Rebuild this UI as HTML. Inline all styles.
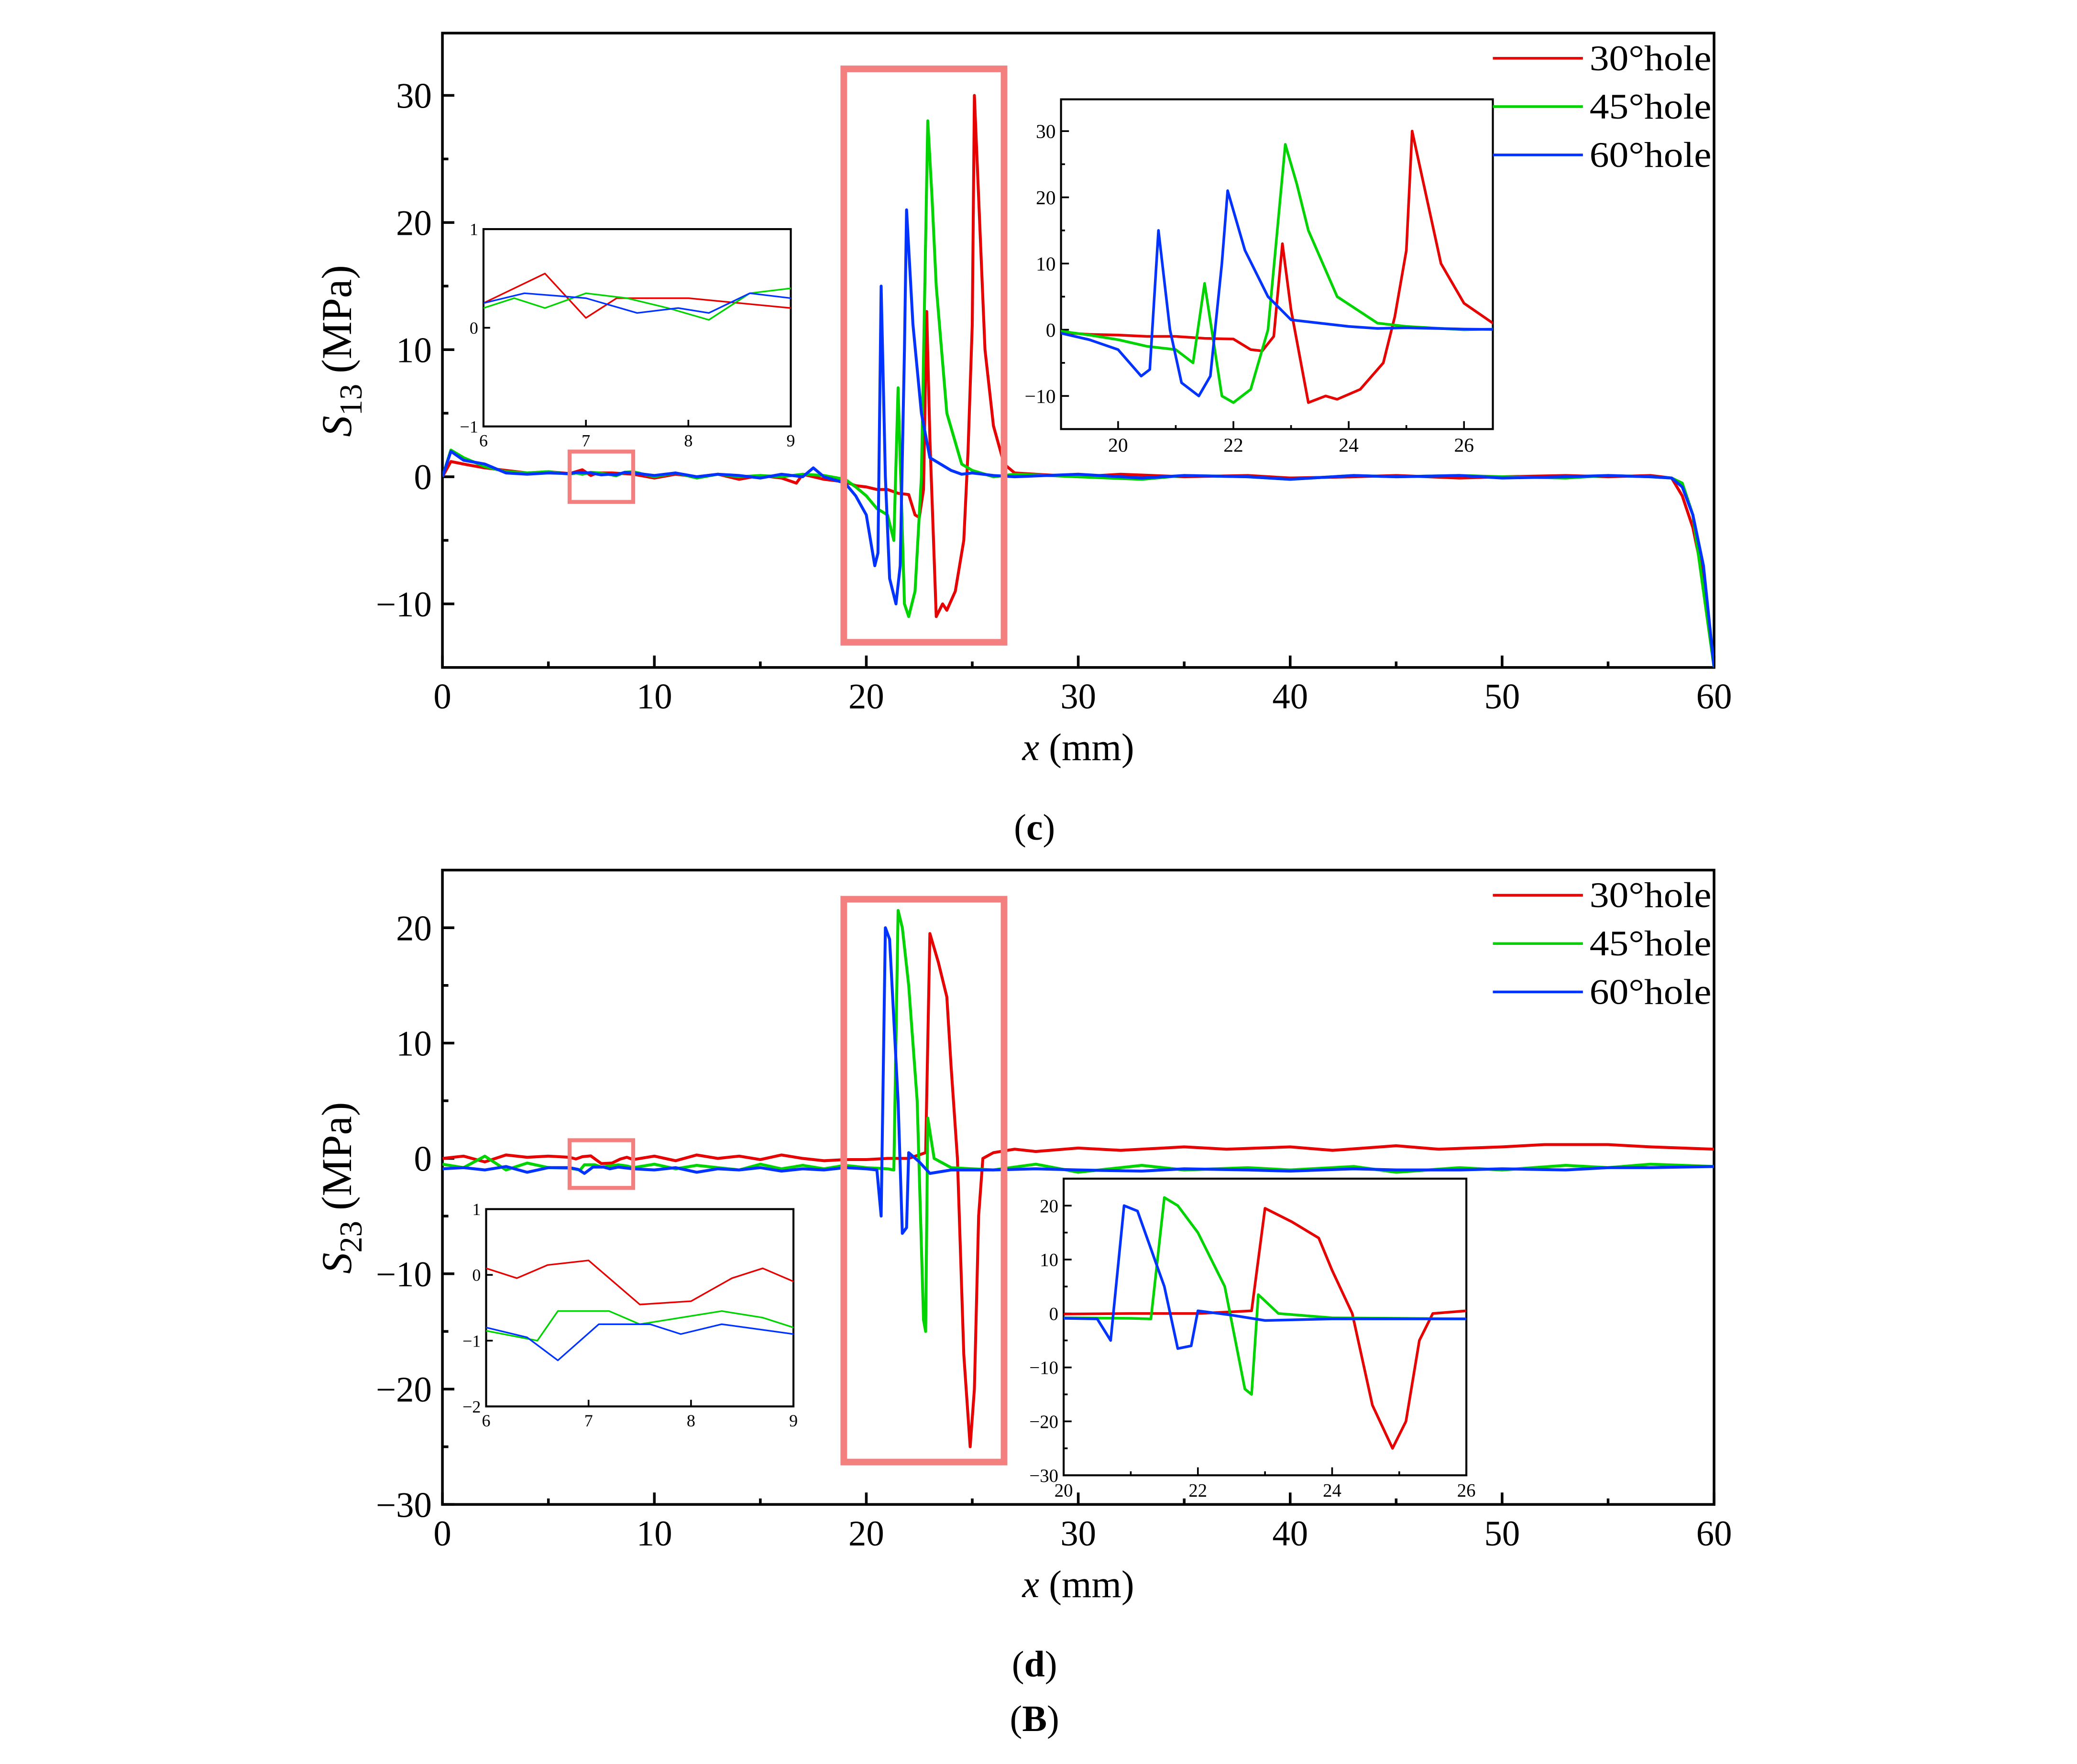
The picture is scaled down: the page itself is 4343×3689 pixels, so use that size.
<!DOCTYPE html>
<html><head><meta charset="utf-8"><style>
html,body{margin:0;padding:0;background:#fff;overflow:hidden;width:4343px;height:3689px}
svg{display:block}
text{font-family:"Liberation Serif",serif;fill:#000}
</style></head><body>
<svg id="fig" width="4343" height="3689" viewBox="0 0 1568 1332" preserveAspectRatio="none" xmlns="http://www.w3.org/2000/svg">
<defs>
<clipPath id="cTop"><rect x="334" y="25" width="960" height="479"/></clipPath>
<clipPath id="cBot"><rect x="334" y="657" width="960" height="479"/></clipPath>
<clipPath id="cTopS"><rect x="365" y="173" width="232" height="149"/></clipPath>
<clipPath id="cTopB"><rect x="801" y="75" width="326" height="249"/></clipPath>
<clipPath id="cBotS"><rect x="367" y="913" width="232" height="149"/></clipPath>
<clipPath id="cBotB"><rect x="803" y="890" width="304" height="224"/></clipPath>
</defs>
<g id="root"></g>
</svg>
<script>
// ---- S13 data (panel c) ----
const xR13=[0,0.4,1,2,3,4,5,6,6.6,7,7.3,8,9,10,11,12,13,14,15,16,16.7,17,18,19,19.5,20,20.5,21,21.5,22,22.3,22.5,22.7,22.85,23,23.3,23.6,23.8,24.2,24.6,24.8,25,25.1,25.3,25.6,26,26.5,27,28,30,32,35,38,40,43,45,48,50,53,55,57,58,58.5,59,59.5,60];
const yR13=[0,1.2,1,0.7,0.5,0.3,0.4,0.25,0.55,0.1,0.3,0.3,0.2,-0.1,0.2,0,0.2,-0.2,0.1,-0.1,-0.5,0.2,-0.2,-0.4,-0.7,-0.8,-1,-1,-1.3,-1.4,-3,-3.2,-1,13,3,-11,-10,-10.5,-9,-5,2,12,30,22,10,4,1,0.3,0.2,0,0.2,0,0.1,-0.1,0,0.1,-0.1,0,0.1,0,0.1,-0.1,-1.5,-4,-8,-15];
const xG13=[0,0.4,1,2,3,4,5,6,6.3,6.6,7,7.4,7.8,8.2,8.6,9,10,11,12,13,14,15,16,17,18,19,19.5,20,20.5,21,21.3,21.5,21.8,22,22.3,22.6,22.9,23.1,23.3,23.8,24.5,25,26,27,30,33,35,38,40,43,45,48,50,53,55,57,58,58.5,59,59.5,60];
const yG13=[0,2.1,1.5,0.8,0.4,0.3,0.4,0.2,0.3,0.2,0.35,0.3,0.2,0.08,0.35,0.4,0,0.3,-0.1,0.2,0,0.1,0,0.2,0.1,-0.2,-0.8,-1.5,-2.5,-3,-5,7,-10,-11,-9,0,28,22,15,5,1,0.5,0,0.2,0,-0.2,0.1,0,-0.2,0.1,0,0.1,0,-0.1,0.1,0,-0.1,-0.5,-3,-9,-15];
const xB13=[0,0.4,1,2,3,4,5,6,6.4,7,7.5,7.9,8.2,8.6,9,10,11,12,13,14,15,16,17,17.5,18,19,19.5,20,20.4,20.55,20.7,20.9,21.1,21.4,21.6,21.8,21.9,22.2,22.6,23,24,24.5,25,26,27,30,33,35,38,40,43,45,48,50,53,55,57,58,58.5,59,59.5,60];
const yB13=[0,2,1.3,1,0.3,0.2,0.3,0.25,0.35,0.3,0.15,0.2,0.15,0.35,0.3,0.1,0.3,0,0.2,0.1,-0.1,0.2,0,0.7,0,-0.5,-1.5,-3,-7,-6,15,0,-8,-10,-7,10,21,12,5,1.5,0.5,0.2,0.3,0.1,0,0.2,-0.1,0.1,0,-0.2,0.1,0,0.1,-0.1,0,0.1,0,-0.1,-0.8,-3,-7,-15];
// ---- S23 data (panel d) ----
const xR23=[0,1,2,3,4,5,6,6.3,6.6,7,7.5,8,8.4,8.7,9,10,11,12,13,14,15,16,17,18,19,20,21,22,22.8,22.9,23.0,23.4,23.8,24,24.3,24.6,24.9,25.1,25.3,25.5,26,27,28,30,32,35,37,40,42,45,47,50,52,55,57,60];
const yR23=[0,0.2,-0.3,0.3,0.1,0.2,0.1,-0.05,0.15,0.22,-0.45,-0.4,-0.05,0.1,-0.1,0.2,-0.2,0.3,0,0.2,-0.1,0.3,0,-0.2,-0.1,-0.1,0,0,0.5,10,19.5,17,14,8,0,-17,-25,-20,-5,0,0.5,0.8,0.6,0.9,0.7,1,0.8,1,0.7,1.1,0.8,1,1.2,1.2,1,0.8];
const xG23=[0,1,2,3,4,5,6,6.5,6.7,7.2,7.5,8.3,8.7,9,10,11,12,13,14,15,16,17,18,19,20,21,21.3,21.5,21.7,22,22.4,22.7,22.8,22.9,23.2,24,26,28,30,33,35,38,40,43,45,48,50,53,55,57,60];
const yG23=[-0.5,-0.8,0.2,-1,-0.4,-0.8,-0.85,-1,-0.55,-0.55,-0.75,-0.55,-0.65,-0.8,-0.5,-0.9,-0.6,-0.8,-1,-0.5,-0.9,-0.6,-0.9,-0.6,-0.8,-0.9,-1,21.5,20,15,5,-14,-15,3.5,0,-0.8,-1,-0.5,-1.2,-0.6,-1,-0.8,-1,-0.7,-1.2,-0.8,-1,-0.6,-0.8,-0.5,-0.7];
const xB23=[0,1,2,3,4,5,6,6.4,6.7,7.1,7.6,7.9,8.3,9,10,11,12,13,14,15,16,17,18,19,20,20.5,20.7,20.9,21.1,21.5,21.7,21.9,22.0,22.5,23,24,26,28,30,33,35,38,40,43,45,48,50,53,55,57,60];
const yB23=[-0.9,-0.8,-1,-0.7,-1.2,-0.8,-0.8,-0.95,-1.3,-0.75,-0.75,-0.9,-0.75,-0.9,-1,-0.8,-1.2,-0.9,-1,-0.8,-1.1,-0.9,-1,-0.8,-0.9,-1,-5,20,19,5,-6.5,-6,0.5,-0.3,-1.3,-1,-1,-0.9,-1,-1.1,-0.9,-1,-1.1,-0.9,-1,-1,-0.9,-1,-0.8,-0.8,-0.7];
const xTicksMain=[0,10,20,30,40,50,60];
const yTicks13=[-10,0,10,20,30];
const yTicks23=[-30,-20,-10,0,10,20];
const seriesNames=["30°hole","45°hole","60°hole"];
const colors=["#e60000","#00d400","#0033ff"];

const NS="http://www.w3.org/2000/svg";
const root=document.getElementById('root');
function el(tag,attrs,parent){const e=document.createElementNS(NS,tag);for(const k in attrs)e.setAttribute(k,attrs[k]);(parent||root).appendChild(e);return e;}
function scale(d0,d1,r0,r1){return v=>r0+(v-d0)*(r1-r0)/(d1-d0);}

function axes(box,xd,yd,xt,yt,fs,tl,name,minorX,minorY){
  const g=el('g',{});
  
  
  const sx=scale(xd[0],xd[1],box.x0,box.x1), sy=scale(yd[0],yd[1],box.y1,box.y0);
  const r=el('rect',{x:box.x0,y:box.y0,width:box.x1-box.x0,height:box.y1-box.y0,fill:'none',stroke:'#000','stroke-width':fs>20?2:1.5},g);
  
  
  xt.forEach(v=>{const x=sx(v);
    el('line',{x1:x,x2:x,y1:box.y1,y2:box.y1-tl,stroke:'#000','stroke-width':fs>20?2:1.3},g);
    const t=el('text',{x:x,y:box.y1+fs*1.0+ (fs>20?4:2),'font-size':fs,'text-anchor':'middle'},g);t.textContent=v;
    
    });
  if(minorX)minorX.forEach(v=>{const x=sx(v);el('line',{x1:x,x2:x,y1:box.y1,y2:box.y1-tl/2,stroke:'#000','stroke-width':fs>20?2:1.3},g);});
  yt.forEach(v=>{const y=sy(v);
    el('line',{x1:box.x0,x2:box.x0+tl,y1:y,y2:y,stroke:'#000','stroke-width':fs>20?2:1.3},g);
    const t=el('text',{x:box.x0-(fs>20?8:4),y:y+fs*0.35,'font-size':fs,'text-anchor':'end'},g);t.textContent=(v<0?'\u2212'+(-v):v);
    
    });
  if(minorY)minorY.forEach(v=>{const y=sy(v);el('line',{x1:box.x0,x2:box.x0+tl/2,y1:y,y2:y,stroke:'#000','stroke-width':fs>20?2:1.3},g);});
  return {sx,sy};
}
function lines(s,xs,ys,clip,w,pname){
  xs.forEach((xa,i)=>{
    const d=xa.map((x,j)=>(j?'L':'M')+s.sx(x).toFixed(2)+','+s.sy(ys[i][j]).toFixed(2)).join('');
    const p=el('path',{d:d,fill:'none',stroke:colors[i],'stroke-width':w,'stroke-linejoin':'round','clip-path':'url(#'+clip+')'});
    
    
  });
}
function hl(x,y,w,h,sw,name){const r=el('rect',{x,y,width:w,height:h,fill:'none',stroke:'#f47f7f','stroke-width':sw});
  
  }
function legend(y0,name){
  seriesNames.forEach((n,i)=>{const y=y0+i*36.5;
    el('line',{x1:1127,x2:1195,y1:y,y2:y,stroke:colors[i],'stroke-width':2});
    const t=el('text',{x:1200,y:y+9,'font-size':27,textLength:92,lengthAdjust:'spacingAndGlyphs'});t.textContent=n;
    
    });
}
function txt(s,x,y,fs,extra,name){const t=el('text',Object.assign({x,y,'font-size':fs,'text-anchor':'middle'},extra||{}));t.innerHTML=s;
  
  return t;}

// ===== Panel c =====
const A=axes({x0:334,x1:1294,y0:25,y1:504},[0,60],[-15,34.9],xTicksMain,yTicks13,27,9,'s13-main-axes',[5,15,25,35,45,55],[-5,5,15,25]);
lines(A,[xR13,xG13,xB13],[yR13,yG13,yB13],'cTop',2.2,'s13');
hl(637,52,121,433,5,'s13-zoom-highlight');
hl(430,341,48,38,3,'s13-small-highlight');
el('rect',{x:801,y:75,width:326,height:249,fill:'#fff'});
el('rect',{x:365,y:173,width:232,height:149,fill:'#fff'});
const A1=axes({x0:365,x1:597,y0:173,y1:322},[6,9],[-1,1],[6,7,8,9],[-1,0,1],13,5,'s13-inset-small');
lines(A1,[xR13,xG13,xB13],[yR13,yG13,yB13],'cTopS',1.2,'s13-inset-small');
const A2=axes({x0:801,x1:1127,y0:75,y1:324},[19.01,26.5],[-15,34.8],[20,22,24,26],[-10,0,10,20,30],15,6,'s13-inset-big',[21,23,25],[-5,5,15,25]);
lines(A2,[xR13,xG13,xB13],[yR13,yG13,yB13],'cTopB',2,'s13-inset-big');
legend(44,'s13-legend');
txt('<tspan font-style="italic">S</tspan><tspan font-size="24" dy="8">13</tspan><tspan dy="-8"> (MPa)</tspan>',0,0,32,{transform:'translate(265,265) rotate(-90)'},'s13-y-axis-title');
txt('<tspan font-style="italic">x</tspan> (mm)',814,574,29,{},'s13-x-axis-title');
txt('(<tspan font-weight="bold">c</tspan>)',781,634,28,{},'panel-c-label');

// ===== Panel d =====
const B=axes({x0:334,x1:1294,y0:657,y1:1136},[0,60],[-30,25],xTicksMain,yTicks23,27,9,'s23-main-axes',[5,15,25,35,45,55],[-25,-15,-5,5,15]);
lines(B,[xR23,xG23,xB23],[yR23,yG23,yB23],'cBot',2.2,'s23');
hl(637,679,121,425,5,'s23-zoom-highlight');
hl(430,861,48,36,3,'s23-small-highlight');
el('rect',{x:803,y:890,width:304,height:224,fill:'#fff'});
el('rect',{x:367,y:913,width:232,height:149,fill:'#fff'});
const B1=axes({x0:367,x1:599,y0:913,y1:1062},[6,9],[-2,1],[6,7,8,9],[-2,-1,0,1],13,5,'s23-inset-small');
lines(B1,[xR23,xG23,xB23],[yR23,yG23,yB23],'cBotS',1.2,'s23-inset-small');
const B2=axes({x0:803,x1:1107,y0:890,y1:1114},[20,26],[-30,25],[20,22,24,26],[-30,-20,-10,0,10,20],14,6,'s23-inset-big',[21,23,25],[-25,-15,-5,5,15]);
lines(B2,[xR23,xG23,xB23],[yR23,yG23,yB23],'cBotB',2,'s23-inset-big');
legend(676,'s23-legend');
txt('<tspan font-style="italic">S</tspan><tspan font-size="24" dy="8">23</tspan><tspan dy="-8"> (MPa)</tspan>',0,0,32,{transform:'translate(265,897) rotate(-90)'},'s23-y-axis-title');
txt('<tspan font-style="italic">x</tspan> (mm)',814,1206,29,{},'s23-x-axis-title');
txt('(<tspan font-weight="bold">d</tspan>)',781,1266,28,{},'panel-d-label');
txt('(<tspan font-weight="bold">B</tspan>)',781,1307,28,{},'figure-b-label');
</script>
</body></html>
